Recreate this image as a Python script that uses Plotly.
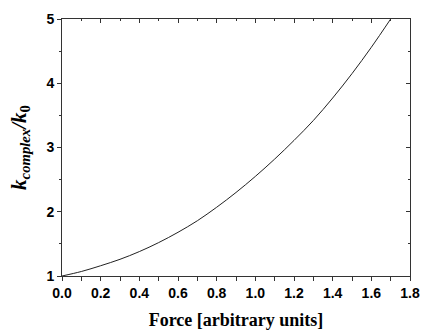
import plotly.graph_objects as go

force = [0.0, 0.1, 0.2, 0.3, 0.4, 0.5, 0.6, 0.7, 0.8, 0.9, 1.0, 1.1, 1.2, 1.3, 1.4, 1.5, 1.6, 1.7]
ratio = [1.00, 1.07, 1.16, 1.26, 1.38, 1.52, 1.68, 1.86, 2.07, 2.30, 2.55, 2.82, 3.11, 3.42, 3.77, 4.15, 4.56, 5.00]

x_ticks = [0.0, 0.2, 0.4, 0.6, 0.8, 1.0, 1.2, 1.4, 1.6, 1.8]
x_labels = ["0.0", "0.2", "0.4", "0.6", "0.8", "1.0", "1.2", "1.4", "1.6", "1.8"]
y_ticks = [1, 2, 3, 4, 5]
y_labels = ["1", "2", "3", "4", "5"]

axis_color = "#333333"
tick_font = dict(family="Liberation Sans", size=14, color="black", weight="bold")
xtitle_font = dict(family="Liberation Serif", size=18, color="black", weight="bold")
ytitle_font = dict(family="Liberation Serif", size=21, color="black", weight="bold")

fig = go.Figure()
fig.add_trace(go.Scatter(x=force, y=ratio, mode="lines",
                         line=dict(color="#222222", width=1, shape="spline", smoothing=1.0),
                         showlegend=False, hoverinfo="skip"))
# invisible trace to anchor the mirrored (top/right) axes
fig.add_trace(go.Scatter(x=[force[0]], y=[ratio[0]], xaxis="x2", yaxis="y2",
                         mode="markers", marker=dict(opacity=0),
                         showlegend=False, hoverinfo="skip"))

fig.update_layout(
    width=421, height=330,
    margin=dict(l=62, r=11, t=19, b=54, autoexpand=False),
    paper_bgcolor="white", plot_bgcolor="white",
    xaxis=dict(range=[0, 1.8], tickvals=x_ticks, ticktext=x_labels, automargin=False,
               ticks="outside", ticklen=4, tickwidth=1, tickcolor=axis_color,
               minor=dict(dtick=0.1, tick0=0, ticks="outside", ticklen=4, tickwidth=1, tickcolor=axis_color),
               showline=True, linecolor=axis_color, linewidth=1,
               showgrid=False, zeroline=False, tickfont=tick_font,
               title=dict(text="Force [arbitrary units]", font=xtitle_font, standoff=20)),
    yaxis=dict(range=[1, 5], tickvals=y_ticks, ticktext=y_labels, automargin=False,
               ticks="outside", ticklen=4, tickwidth=1, tickcolor=axis_color,
               minor=dict(dtick=0.5, tick0=1, ticks="outside", ticklen=2, tickwidth=1, tickcolor=axis_color),
               showline=True, linecolor=axis_color, linewidth=1,
               showgrid=False, zeroline=False, tickfont=tick_font,
               title=dict(text="<i>k</i><sub><i>complex</i></sub><i>/k</i><sub>0</sub>",
                          font=ytitle_font, standoff=14)),
    xaxis2=dict(range=[0, 1.8], overlaying="x", side="top", anchor="y2",
                tickvals=x_ticks, ticks="inside", ticklen=4, tickwidth=1, tickcolor=axis_color,
                minor=dict(dtick=0.1, tick0=0, ticks="inside", ticklen=2, tickwidth=1, tickcolor=axis_color),
                showticklabels=False, showline=True, linecolor=axis_color, linewidth=1,
                showgrid=False, zeroline=False),
    yaxis2=dict(range=[1, 5], overlaying="y", side="right", anchor="x2",
                tickvals=y_ticks, ticks="inside", ticklen=4, tickwidth=1, tickcolor=axis_color,
                minor=dict(dtick=0.5, tick0=1, ticks="inside", ticklen=2, tickwidth=1, tickcolor=axis_color),
                showticklabels=False, showline=True, linecolor=axis_color, linewidth=1,
                showgrid=False, zeroline=False),
)

fig.write_html("out.html")
